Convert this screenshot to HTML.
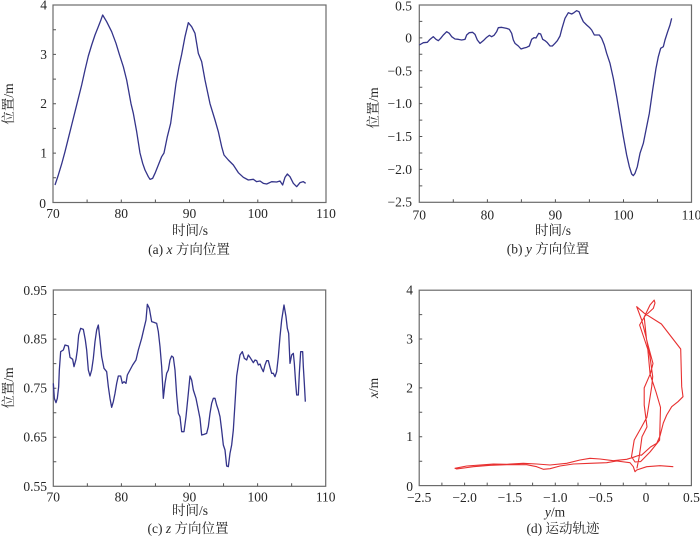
<!DOCTYPE html>
<html><head><meta charset="utf-8"><style>
html,body{margin:0;padding:0;background:#fff;}
svg{display:block;}
text{font-family:"Liberation Serif","Noto Serif CJK SC","Noto Sans CJK SC",serif;fill:#262626;font-size:13.5px;}
.ax{fill:none;stroke:#6b6b6b;stroke-width:1.2;}
.tk{fill:none;stroke:#555;stroke-width:1;}
.ln{fill:none;stroke:#34348a;stroke-width:1.3;stroke-linejoin:round;vector-effect:non-scaling-stroke;}
.rd{fill:none;stroke:#e83030;stroke-width:1.1;stroke-linejoin:round;}
</style></head><body>
<svg width="700" height="537" viewBox="0 0 700 537" xmlns="http://www.w3.org/2000/svg">

<!-- Panel a -->
<rect class="ax" x="53" y="5" width="273" height="197.5"/>
<path class="tk" d="M87.1 202.5v-3M121.3 202.5v-3M155.4 202.5v-3M189.5 202.5v-3M223.6 202.5v-3M257.8 202.5v-3M291.9 202.5v-3
M53 177.8h3M53 153.1h3M53 128.4h3M53 103.75h3M53 79.1h3M53 54.4h3M53 29.7h3"/>
<g text-anchor="end">
<text x="47" y="9.5">4</text><text x="47" y="58.9">3</text><text x="47" y="108.2">2</text><text x="47" y="157.6">1</text><text x="46" y="208">0</text>
</g>
<g text-anchor="middle">
<text x="53" y="218">70</text><text x="121.3" y="218">80</text><text x="189.5" y="218">90</text><text x="257.8" y="218">100</text><text x="326" y="218">110</text>
<text x="190" y="235">时间/s</text>
<text x="189" y="254">(a) <tspan font-style="italic">x</tspan> 方向位置</text>
<text transform="translate(13,104) rotate(-90)">位置/m</text>
</g>
<g transform="scale(0.33333)">
<polyline class="ln" points="165,555 175,525 185,492 195,455 205,415 215,375 225,335 235,295 245,255 255,210 265,168 275,135 285,105 295,80 302,62 308,45 320,65 335,95 348,130 358,163 370,200 380,240 393,311 400,340 410,395 420,459 428,490 435,510 445,530 450,538 458,535 465,520 475,495 485,470 492,459 502,410 512,370 520,311 528,250 537,200 545,163 555,110 565,68 575,80 585,100 595,160 605,185 615,240 630,311 645,360 655,395 665,440 672,465 685,480 700,495 715,518 730,532 745,540 760,538 770,545 780,543 790,550 800,552 815,545 830,546 840,543 848,555 855,532 862,522 870,530 880,550 890,560 900,548 910,545 917,550"/>
</g>

<!-- Panel b -->
<rect class="ax" x="419.3" y="5" width="272.2" height="197.3"/>
<path class="tk" d="M453.3 202.3v-3M487.4 202.3v-3M521.4 202.3v-3M555.4 202.3v-3M589.4 202.3v-3M623.5 202.3v-3M657.5 202.3v-3
M419.3 21.4h3M419.3 37.9h3M419.3 54.3h3M419.3 70.8h3M419.3 87.2h3M419.3 103.6h3M419.3 120.1h3M419.3 136.5h3M419.3 153h3M419.3 169.4h3M419.3 185.9h3"/>
<g text-anchor="end">
<text x="412" y="10.5">0.5</text><text x="412" y="42.5">0</text><text x="412" y="75.3">−0.5</text><text x="412" y="108.1">−1.0</text><text x="412" y="141">−1.5</text><text x="412" y="173.9">−2.0</text><text x="412" y="206.3">−2.5</text>
</g>
<g text-anchor="middle">
<text x="419.3" y="219.5">70</text><text x="487.4" y="219.5">80</text><text x="555.4" y="219.5">90</text><text x="623.5" y="219.5">100</text><text x="691.5" y="219.5">110</text>
<text x="553" y="235">时间/s</text>
<text x="548" y="253.5">(b) <tspan font-style="italic">y</tspan> 方向位置</text>
<text transform="translate(378,108) rotate(-90)">位置/m</text>
</g>
<g transform="translate(350,0) scale(0.33333)">
<polyline class="ln" points="208,135 220,128 232,127 240,118 250,110 258,118 265,122 272,115 280,105 290,95 298,100 305,110 315,117 325,118 335,120 345,118 350,105 358,98 368,97 375,103 382,120 390,130 400,122 410,112 418,106 425,110 432,106 440,95 445,83 455,82 470,85 478,88 485,100 490,120 495,130 505,138 513,147 522,144 530,142 538,138 545,118 552,113 558,114 566,100 572,102 578,118 585,122 592,128 600,138 607,138 615,130 622,122 630,108 636,85 645,55 655,38 665,42 672,38 680,32 687,35 693,50 700,65 710,75 718,82 725,90 733,105 740,105 748,105 755,115 763,135 770,160 780,190 790,235 800,290 810,350 820,410 830,465 838,500 845,522 850,527 855,520 862,500 870,460 880,430 888,390 898,340 908,270 918,205 925,170 932,145 940,140 945,120 953,95 960,75 965,55"/>
</g>

<!-- Panel c -->
<rect class="ax" x="53.3" y="290" width="272.4" height="196.3"/>
<path class="tk" d="M87.35 486.3v-3M121.4 486.3v-3M155.45 486.3v-3M189.5 486.3v-3M223.55 486.3v-3M257.6 486.3v-3M291.65 486.3v-3
M53.3 314.5h3M53.3 339.1h3M53.3 363.6h3M53.3 388.2h3M53.3 412.7h3M53.3 437.2h3M53.3 461.8h3"/>
<g text-anchor="end">
<text x="47" y="295">0.95</text><text x="47" y="343.6">0.85</text><text x="47" y="392.7">0.75</text><text x="47" y="441.7">0.65</text><text x="47" y="491">0.55</text>
</g>
<g text-anchor="middle">
<text x="53.3" y="501.5">70</text><text x="121.4" y="501.5">80</text><text x="189.5" y="501.5">90</text><text x="257.6" y="501.5">100</text><text x="325.7" y="501.5">110</text>
<text x="190" y="515">时间/s</text>
<text x="188" y="533">(c) <tspan font-style="italic">z</tspan> 方向位置</text>
<text transform="translate(13,388) rotate(-90)">位置/m</text>
</g>
<g transform="translate(0,270) scale(0.33333)">
<polyline class="ln" points="160,340 163,385 168,398 172,385 176,350 178,300 182,245 190,240 195,225 205,228 210,262 218,268 222,290 228,268 232,240 236,195 242,175 250,178 256,210 260,240 265,300 270,318 275,300 280,265 285,215 290,180 295,165 300,210 305,260 312,295 320,305 325,350 330,385 335,412 340,395 345,370 350,340 355,318 362,318 367,340 372,335 378,340 382,315 390,300 398,285 408,270 415,240 425,205 432,175 438,150 442,103 448,115 455,155 462,157 470,160 475,185 480,230 485,290 490,385 495,340 500,310 505,300 510,270 515,258 520,262 525,300 530,375 535,430 540,440 545,485 552,485 558,440 565,370 570,318 575,330 580,360 588,385 595,420 600,445 605,495 612,493 620,490 625,470 630,430 635,400 640,385 645,385 650,405 655,420 660,440 665,480 670,525 675,540 680,588 685,590 690,550 695,525 700,480 705,400 710,318 715,285 720,255 727,245 733,265 740,270 745,255 750,262 755,270 760,278 765,270 770,272 775,285 780,282 785,295 790,305 795,285 800,272 805,272 810,292 815,310 820,310 825,320 830,305 835,260 840,200 845,150 852,105 858,140 862,175 866,190 870,280 875,255 880,250 883,280 887,340 890,375 895,375 898,310 902,245 908,245 910,290 913,340 916,395"/>
</g>

<!-- Panel d -->
<rect class="ax" x="419.2" y="290.2" width="272.2" height="195.4"/>
<path class="tk" d="M441.9 485.6v-3M464.6 485.6v-3M487.2 485.6v-3M509.9 485.6v-3M532.6 485.6v-3M555.3 485.6v-3M578 485.6v-3M600.6 485.6v-3M623.3 485.6v-3M646 485.6v-3M668.7 485.6v-3
M419.2 314.6h3M419.2 339.05h3M419.2 363.5h3M419.2 387.9h3M419.2 412.3h3M419.2 436.75h3M419.2 461.2h3"/>
<g text-anchor="end">
<text x="413" y="294.7">4</text><text x="413" y="343.5">3</text><text x="413" y="392.4">2</text><text x="413" y="441.2">1</text><text x="413" y="491">0</text>
</g>
<g text-anchor="middle">
<text x="419.2" y="502">−2.5</text><text x="464.6" y="502">−2.0</text><text x="509.9" y="502">−1.5</text><text x="555.3" y="502">−1.0</text><text x="600.6" y="502">−0.5</text><text x="646" y="502">0</text><text x="691.4" y="502">0.5</text>
<text x="555" y="516.5"><tspan font-style="italic">y</tspan>/m</text>
<text x="563" y="533">(d) 运动轨迹</text>
<text transform="translate(378,388) rotate(-90)"><tspan font-style="italic">x</tspan>/m</text>
</g>
<polyline class="rd" points="636.9,468.4 639,458 640.6,447 642,436.7 647,426.9 644.2,405 644.2,387.9 650.5,373.3 653,363.5 648,345 646.5,339.1 644.2,317.1 650,305 654.2,300.1 655,303 653.3,308.4 645,316 639.6,325 644,338 647.8,349.3 650.1,374.2 656,392 660.5,407.4 659.6,440.1 650,452 640.6,461.6 635,462 631.5,456.7 634.2,440.1 641,428 646.9,417.2 651.7,386.7 652.7,376.7 650,356.7 646,336.7 641.7,320 636.7,306.7 644.2,313.2 661.4,324 680.7,349 681.7,386.7 683,396.7 678,401.7 671.7,406.7 666.7,415 663.3,423 660,436 656.7,443.3 650.5,447 641.5,455.2 640,455 633.3,457.3 626.7,459.3 613.3,460.7 600,459 590,458.3 580,460 566.7,463.3 550,465 536.7,464 523.3,463.3 506.7,464.3 493.3,464 480,465 466.7,466 455,468.3 456.7,469 473.3,466.7 490,465.3 506.7,464.7 526.7,464.7 536.7,466.7 543.3,469.3 550,468.7 560,466 573.3,464 590,463.3 606.7,462.7 616.7,461 630,462.7 633.3,466.7 635,471.7 636.7,470 646.7,466.7 660,465.7 673.3,466.7"/>
</svg>
</body></html>
